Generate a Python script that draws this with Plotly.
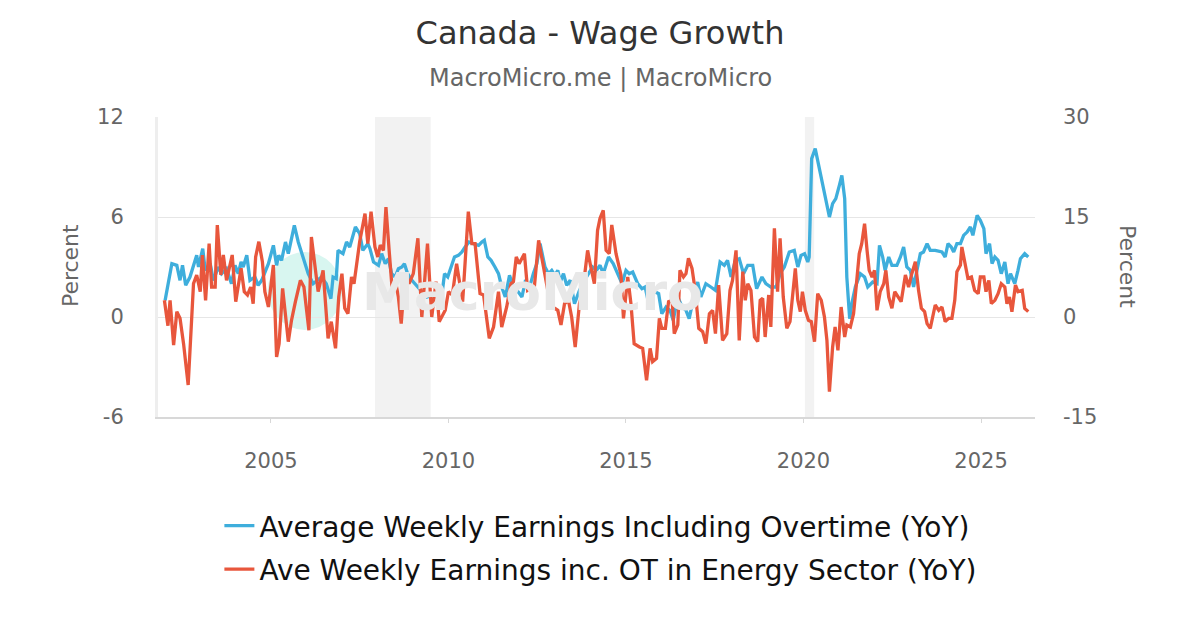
import plotly.graph_objects as go

# monthly-ish readings, decimal years
awe_year = [2002.02, 2002.21, 2002.35, 2002.44, 2002.51, 2002.60, 2002.72, 2002.91, 2002.96, 2003.08,
            2003.15, 2003.29, 2003.38, 2003.52, 2003.61, 2003.75, 2003.89, 2003.99, 2004.08, 2004.16,
            2004.22, 2004.32, 2004.41, 2004.55, 2004.64, 2004.74, 2004.93, 2005.07, 2005.16, 2005.22,
            2005.30, 2005.41, 2005.49, 2005.66, 2005.77, 2005.91, 2006.05, 2006.19, 2006.42, 2006.56,
            2006.69, 2006.75, 2006.84, 2006.89, 2007.03, 2007.13, 2007.22, 2007.38, 2007.50, 2007.59,
            2007.73, 2007.79, 2007.89, 2008.03, 2008.12, 2008.22, 2008.31, 2008.40, 2008.50, 2008.59,
            2008.69, 2008.76, 2008.85, 2008.97, 2009.06, 2009.17, 2009.30, 2009.39, 2009.53, 2009.67,
            2009.79, 2009.89, 2009.98, 2010.08, 2010.17, 2010.28, 2010.38, 2010.47, 2010.58, 2010.70,
            2010.85, 2010.94, 2011.01, 2011.11, 2011.20, 2011.31, 2011.41, 2011.50, 2011.60, 2011.72,
            2011.83, 2011.97, 2012.07, 2012.16, 2012.30, 2012.39, 2012.49, 2012.58, 2012.72, 2012.82,
            2012.91, 2013.00, 2013.08, 2013.15, 2013.24, 2013.33, 2013.43, 2013.55, 2013.69, 2013.83,
            2013.95, 2014.06, 2014.17, 2014.27, 2014.36, 2014.51, 2014.64, 2014.77, 2014.89, 2015.00,
            2015.09, 2015.19, 2015.33, 2015.45, 2015.54, 2015.61, 2015.70, 2015.83, 2015.92, 2016.01,
            2016.13, 2016.24, 2016.33, 2016.46, 2016.58, 2016.69, 2016.78, 2016.91, 2017.02, 2017.11,
            2017.25, 2017.39, 2017.52, 2017.65, 2017.77, 2017.86, 2017.96, 2018.08, 2018.19, 2018.31,
            2018.43, 2018.57, 2018.68, 2018.83, 2018.94, 2019.08, 2019.23, 2019.34, 2019.46, 2019.60,
            2019.74, 2019.84, 2019.93, 2020.03, 2020.12, 2020.16, 2020.23, 2020.33, 2020.40, 2020.52,
            2020.63, 2020.73, 2020.82, 2020.91, 2021.01, 2021.08, 2021.16, 2021.22, 2021.30, 2021.36,
            2021.46, 2021.60, 2021.72, 2021.81, 2021.95, 2022.07, 2022.14, 2022.23, 2022.30, 2022.40,
            2022.49, 2022.63, 2022.73, 2022.82, 2022.91, 2023.01, 2023.10, 2023.20, 2023.29, 2023.38,
            2023.48, 2023.57, 2023.71, 2023.90, 2023.99, 2024.07, 2024.16, 2024.23, 2024.32, 2024.42,
            2024.51, 2024.61, 2024.70, 2024.77, 2024.89, 2024.98, 2025.08, 2025.14, 2025.24, 2025.31,
            2025.39, 2025.48, 2025.57, 2025.67, 2025.76, 2025.83, 2025.95, 2026.04, 2026.11, 2026.23,
            2026.33]
awe_yoy = [1.0, 3.2, 3.1, 2.2, 3.1, 1.9, 2.4, 3.7, 3.0, 4.1,
           2.8, 3.2, 2.2, 3.0, 2.6, 2.9, 2.0, 3.1, 2.6, 3.3,
           3.0, 3.7, 2.2, 2.4, 1.9, 2.2, 3.2, 4.3, 3.1, 3.7,
           3.4, 4.5, 3.8, 5.5, 4.5, 3.6, 2.6, 2.0, 2.4, 2.0,
           1.1, 2.4, 2.3, 4.0, 3.8, 4.5, 4.2, 5.4, 5.0, 4.0,
           4.4, 4.1, 3.3, 3.1, 3.8, 3.2, 3.5, 2.6, 2.4, 2.9,
           3.0, 3.2, 2.6, 2.2, 2.0, 1.7, 1.4, 1.2, 1.3, 1.2,
           0.9, 2.6, 2.4, 3.0, 3.6, 3.7, 3.9, 4.2, 4.5, 4.4,
           4.3, 4.5, 4.6, 3.6, 3.4, 3.0, 2.6, 1.8, 1.2, 2.5,
           1.8, 1.5, 1.2, 2.1, 1.9, 2.6, 3.2, 4.4, 3.0, 2.6,
           2.8, 2.5, 2.8, 2.1, 2.6, 1.9, 2.2, 0.8, 1.6, 2.2,
           2.6, 3.0, 2.8, 3.1, 2.6, 3.6, 3.2, 2.6, 2.0, 2.8,
           2.6, 2.7, 2.0, 1.7, 1.8, 1.1, 1.6, 1.5, 1.4, 0.2,
           0.6, 0.4, -0.2, 1.2, 0.6, 0.4, -0.1, 1.2, 2.1, 1.2,
           2.0, 1.8, 1.6, 3.3, 3.1, 3.4, 2.4, 3.4, 3.5, 2.6,
           3.1, 3.1, 1.7, 2.4, 2.0, 1.8, 1.8, 2.6, 3.0, 3.9,
           4.0, 3.0, 3.7, 3.8, 3.3, 3.6, 9.5, 10.1, 9.4, 8.0,
           7.0, 6.0, 6.8, 7.1, 7.9, 8.5, 7.1, 2.4, -0.1, 0.8,
           1.8, 2.6, 2.4, 1.8, 2.1, 2.0, 4.3, 3.6, 2.8, 3.6,
           3.1, 3.1, 3.6, 4.2, 3.0, 2.8, 1.8, 3.0, 3.8, 3.9,
           4.4, 4.0, 4.0, 3.9, 3.6, 4.4, 4.2, 3.9, 4.4, 4.4,
           4.9, 5.1, 5.4, 4.9, 6.1, 5.8, 5.3, 3.8, 4.4, 3.2,
           3.6, 3.4, 2.6, 3.3, 2.0, 2.6, 2.0, 2.8, 3.5, 3.8,
           3.6]

energy_year = [2002.00, 2002.10, 2002.16, 2002.26, 2002.35, 2002.44, 2002.54, 2002.67, 2002.82, 2002.91,
               2003.01, 2003.07, 2003.16, 2003.26, 2003.33, 2003.43, 2003.49, 2003.59, 2003.66, 2003.75,
               2003.91, 2004.01, 2004.16, 2004.25, 2004.34, 2004.43, 2004.50, 2004.57, 2004.66, 2004.76,
               2004.83, 2004.93, 2005.07, 2005.16, 2005.23, 2005.33, 2005.49, 2005.58, 2005.69, 2005.83,
               2005.93, 2006.07, 2006.14, 2006.24, 2006.33, 2006.47, 2006.61, 2006.70, 2006.82, 2006.91,
               2007.00, 2007.08, 2007.17, 2007.27, 2007.34, 2007.43, 2007.50, 2007.65, 2007.73, 2007.82,
               2007.93, 2008.01, 2008.08, 2008.17, 2008.24, 2008.33, 2008.42, 2008.52, 2008.59, 2008.67,
               2008.78, 2008.89, 2009.01, 2009.14, 2009.25, 2009.41, 2009.53, 2009.65, 2009.74, 2009.91,
               2010.00, 2010.11, 2010.23, 2010.40, 2010.56, 2010.66, 2010.75, 2010.89, 2010.99, 2011.15,
               2011.27, 2011.41, 2011.50, 2011.64, 2011.76, 2011.83, 2011.91, 2011.99, 2012.14, 2012.23,
               2012.35, 2012.42, 2012.54, 2012.63, 2012.77, 2012.89, 2013.00, 2013.08, 2013.17, 2013.27,
               2013.38, 2013.47, 2013.57, 2013.69, 2013.78, 2013.92, 2014.01, 2014.11, 2014.20, 2014.27,
               2014.36, 2014.44, 2014.53, 2014.60, 2014.72, 2014.86, 2014.93, 2015.05, 2015.14, 2015.23,
               2015.38, 2015.47, 2015.58, 2015.68, 2015.75, 2015.86, 2015.94, 2016.01, 2016.11, 2016.20,
               2016.30, 2016.36, 2016.46, 2016.52, 2016.62, 2016.69, 2016.76, 2016.86, 2016.95, 2017.05,
               2017.16, 2017.25, 2017.35, 2017.44, 2017.52, 2017.61, 2017.72, 2017.84, 2017.93, 2018.00,
               2018.10, 2018.19, 2018.29, 2018.36, 2018.43, 2018.52, 2018.62, 2018.71, 2018.78, 2018.85,
               2018.92, 2019.02, 2019.08, 2019.18, 2019.27, 2019.34, 2019.43, 2019.53, 2019.62, 2019.77,
               2019.84, 2019.91, 2019.97, 2020.05, 2020.14, 2020.22, 2020.31, 2020.40, 2020.50, 2020.59,
               2020.66, 2020.73, 2020.82, 2020.89, 2020.97, 2021.06, 2021.16, 2021.22, 2021.32, 2021.41,
               2021.50, 2021.57, 2021.64, 2021.72, 2021.79, 2021.85, 2021.93, 2022.00, 2022.07, 2022.16,
               2022.26, 2022.32, 2022.40, 2022.49, 2022.57, 2022.66, 2022.75, 2022.87, 2022.96, 2023.05,
               2023.15, 2023.24, 2023.32, 2023.41, 2023.48, 2023.57, 2023.65, 2023.71, 2023.81, 2023.90,
               2023.99, 2024.09, 2024.18, 2024.26, 2024.32, 2024.42, 2024.46, 2024.56, 2024.63, 2024.73,
               2024.82, 2024.92, 2024.98, 2025.08, 2025.14, 2025.22, 2025.29, 2025.39, 2025.48, 2025.57,
               2025.67, 2025.73, 2025.80, 2025.87, 2025.97, 2026.04, 2026.16, 2026.23, 2026.33]
energy_yoy = [2.5, -1.3, 2.5, -4.2, 0.8, -0.2, -4.0, -10.2, 5.0, 6.3,
              3.8, 9.3, 2.5, 11.0, 4.5, 4.5, 13.8, 6.3, 9.3, 5.5,
              9.3, 2.3, 7.3, 3.8, 3.3, 4.5, 2.0, 9.0, 11.3, 8.3,
              3.8, 1.5, 7.8, -6.0, -4.0, 4.3, -3.7, -0.5, 2.3, 5.5,
              4.5, -2.0, 12.0, 7.5, 3.8, 7.0, -3.2, -0.7, -4.7, 3.0,
              6.5, 1.3, 0.5, 6.0, 5.0, 8.5, 11.3, 15.5, 11.0, 15.8,
              10.5, 9.0, 10.8, 10.0, 16.5, 10.0, 3.8, 5.0, 3.0, -1.0,
              6.5, 5.0, 6.5, 11.8, 0.0, 11.0, 0.0, 5.3, -0.7, 1.0,
              3.8, 3.3, 8.0, 2.3, 15.8, 11.0, 11.0, 3.5, 3.3, -3.2,
              -1.5, 3.8, -1.5, 1.5, 5.0, 5.3, 9.0, 8.0, 9.5, 4.0,
              4.3, 4.5, 11.5, 9.0, 5.0, 1.3, 1.3, 1.0, -1.2, 2.0,
              2.5, 0.0, -4.5, 2.0, 3.8, 10.0, 7.5, 5.0, 13.0, 14.8,
              16.0, 10.0, 9.5, 13.8, 9.5, 6.3, -0.2, 6.0, 2.0, -4.0,
              -4.5, -4.7, -9.5, -4.7, -6.7, -6.2, -0.2, -1.7, -1.7, 2.3,
              2.5, -2.5, -1.2, 7.0, 6.0, 6.5, 8.8, 7.3, 4.0, -1.7,
              -2.2, -4.0, 0.5, 1.0, -2.5, 4.8, -3.5, -2.5, 4.0, 5.5,
              10.0, -3.5, 6.8, 2.5, 5.0, 4.0, -3.0, -3.7, 2.5, 2.8,
              -3.0, 3.3, -1.5, 13.3, 3.8, 11.8, 3.0, -1.7, -0.7, 7.3,
              2.5, 0.8, 3.8, 1.0, -0.5, -0.7, -3.7, 3.5, 2.5, 0.0,
              -3.5, -11.2, -4.5, -1.5, -5.0, 1.5, -3.0, -1.2, -1.5, 0.5,
              5.5, 9.5, 11.0, 14.0, 10.0, 7.0, 6.0, 7.0, 1.0, 3.8,
              5.0, 7.0, 3.0, 1.3, 3.8, 3.0, 2.3, 6.3, 4.5, 6.5,
              8.3, 4.0, 1.3, 0.8, -1.0, -1.7, 0.3, 1.8, 1.0, 1.5,
              -0.7, -0.2, -0.2, 2.5, 6.8, 7.8, 10.5, 8.0, 5.8, 6.0,
              4.0, 3.5, 6.0, 6.0, 3.8, 5.5, 2.0, 2.5, 3.5, 5.0,
              4.5, 2.0, 3.0, 0.8, 4.8, 3.8, 4.0, 1.3, 0.8]

# recession bands (start, end)
recessions = [(2007.93, 2009.50), (2020.04, 2020.30)]

year_ticks = [2005, 2010, 2015, 2020, 2025]
left_ticks = [-6, 0, 6, 12]
right_ticks = [-15, 0, 15, 30]

blue = "#3eaedc"
red = "#e8563c"
font = "DejaVu Sans"

fig = go.Figure()
fig.add_trace(go.Scatter(x=awe_year, y=awe_yoy, mode="lines", legendgroup="a",
                         name="Average Weekly Earnings Including Overtime (YoY)",
                         line=dict(color=blue, width=3.3)))
fig.add_trace(go.Scatter(x=energy_year, y=energy_yoy, mode="lines", yaxis="y2", legendgroup="b",
                         name="Ave Weekly Earnings inc. OT in Energy Sector (YoY)",
                         line=dict(color=red, width=3.3)))

for x0, x1 in recessions:
    fig.add_vrect(x0=x0, x1=x1, fillcolor="#f2f2f2", line_width=0, layer="below")

# watermark logo
fig.add_shape(type="circle", xref="paper", yref="paper",
              x0=0.125, x1=0.21, y0=0.29, y1=0.55,
              fillcolor="#d8f6f0", line_width=0, layer="below")
fig.add_annotation(text="<b>MacroMicro</b>", xref="paper", yref="paper",
                   x=0.4265, y=0.417, xanchor="center", yanchor="middle", showarrow=False,
                   font=dict(family=font, size=52, color="#e8e8e8"))

# page body has an 8px margin, so everything is laid out 8px up/left
fig.update_layout(
    width=1200, height=630,
    paper_bgcolor="white", plot_bgcolor="white",
    font=dict(family=font, color="#666666"),
    margin=dict(l=150, r=173, t=109, b=221),
    title=dict(text="Canada - Wage Growth", x=592 / 1200, xref="container", xanchor="center",
               y=1 - 25 / 630, yanchor="middle",
               font=dict(size=32, color="#333333")),
    showlegend=True,
    legend=dict(orientation="v", x=0.505, xanchor="center", y=-0.28, yanchor="top",
                tracegroupgap=4, font=dict(size=28, color="#111111")),
    xaxis=dict(range=[2001.82, 2026.52], tickvals=year_ticks,
               showgrid=False, zeroline=False,
               showline=True, linecolor="#d8d8d8", linewidth=2,
               ticks="outside", ticklen=4, tickcolor="#d8d8d8",
               tickfont=dict(size=21, color="#666666"), ticklabelstandoff=20),
    yaxis=dict(range=[-6, 12], tickvals=left_ticks, ticktext=[str(v) for v in left_ticks],
               gridcolor="#e6e6e6", gridwidth=1,
               zeroline=False, showline=True, linecolor="#eeeeee", linewidth=3,
               tickfont=dict(size=21, color="#666666"), ticklabelstandoff=27),
    yaxis2=dict(range=[-15, 30], tickvals=right_ticks, ticktext=[str(v) for v in right_ticks],
                overlaying="y", side="right",
                showgrid=False, zeroline=False,
                tickfont=dict(size=21, color="#666666"), ticklabelstandoff=27),
    annotations=list(fig.layout.annotations) + [
        dict(text="MacroMicro.me | MacroMicro", xref="paper", yref="paper",
             x=(600 - 158) / 877, y=(417 - 78) / 300, xanchor="center", yanchor="middle",
             showarrow=False, font=dict(size=24, color="#666666")),
        dict(text="Percent", xref="paper", yref="paper", x=(70 - 158) / 877, y=0.503,
             xanchor="center", yanchor="middle",
             textangle=-90, showarrow=False, font=dict(size=22, color="#666666")),
        dict(text="Percent", xref="paper", yref="paper", x=(1128 - 158) / 877, y=0.503,
             xanchor="center", yanchor="middle",
             textangle=90, showarrow=False, font=dict(size=22, color="#666666")),
    ],
)

fig.write_html("out.html")
